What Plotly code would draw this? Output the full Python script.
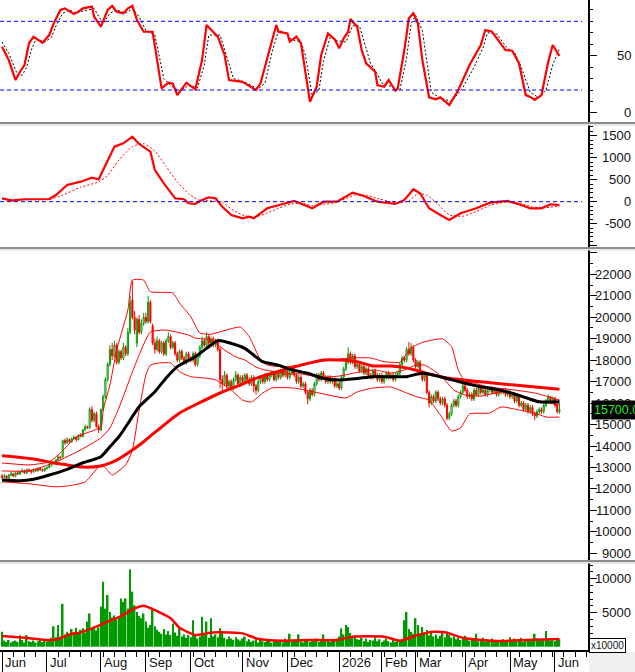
"""
Daily price chart with stochastic, MACD, Bollinger bands, moving averages and volume.
Layout rebuilt in Plotly: four stacked panels sharing one trading-day axis.
"""

import plotly.graph_objects as go

# --- trading days (index 0 = first session of June 2025) -------------------
N_DAYS = 249
days = list(range(N_DAYS))

month_days = [0, 20, 44, 64, 84, 107, 127, 150, 169, 184, 206, 226, 246]
month_labels = ["Jun", "Jul", "Aug", "Sep", "Oct", "Nov", "Dec", "2026",
                "Feb", "Mar", "Apr", "May", "Jun"]

# --- daily candles -----------------------------------------------------------
opens = [
    12600, 12550, 12600, 12500, 12650, 12700, 12600, 12750, 12700, 12800,
    12850, 12750, 12900, 12850, 12800, 12900, 12850, 12950, 12900, 12850,
    12950, 13000, 13100, 13250, 13200, 13350, 13500, 13500, 14250, 14150,
    14300, 14200, 14350, 14400, 14300, 14500, 14450, 14750, 14900, 14850,
    15700, 15200, 15500, 14900, 14750, 15700, 16300, 17100, 17800, 18500,
    18200, 18700, 17900, 18400, 18100, 18600, 18300, 19300, 20800, 20000,
    18800, 19900, 19300, 19700, 20000, 19800, 20700, 19600, 18800, 18500,
    18900, 18400, 18800, 18300, 18900, 19100, 18600, 18800, 18300, 18000,
    18400, 18100, 17900, 18300, 18100, 18000, 18300, 17800, 18200, 18600,
    18900, 18700, 19100, 18800, 19000, 18700, 18900, 18500, 17100, 16900,
    17300, 16800, 17000, 16700, 17100, 17300, 16900, 17200, 17000, 17300,
    17100, 16900, 17200, 16800, 16600, 17000, 17200, 17000, 17300, 17100,
    17300, 17400, 17100, 17400, 17200, 17500, 17300, 17500, 17200, 17400,
    17600, 17300, 17000, 17200, 16800, 16900, 16500, 16200, 16600, 16400,
    16900, 17300, 17100, 17400, 17200, 17000, 17200, 17000, 17100, 16800,
    16900, 16700, 17200, 17600, 17900, 18300, 17900, 18200, 17700, 17800,
    17500, 17700, 17400, 17600, 17300, 17200, 17500, 17300, 17100, 17300,
    17000, 17200, 17400, 17200, 17300, 17100, 17300, 17400, 17800, 18100,
    18000, 18500, 18300, 18600, 18000, 17700, 17900, 17400, 17100, 17300,
    16500, 16000, 16300, 16100, 16500, 16200, 16000, 16200, 15900, 15300,
    15500, 15900, 16100, 15900, 16300, 16500, 16800, 16600, 16300, 16400,
    16200, 16600, 16400, 16700, 16500, 16600, 16400, 16600, 16700, 16500,
    16600, 16400, 16600, 16500, 16600, 16400, 16500, 16300, 16400, 16100,
    16300, 15900, 16000, 15700, 15900, 15600, 15800, 15500, 15400, 15600,
    15700, 15600, 15900, 16100, 16300, 16100, 16200, 15900, 15600,
]
highs = [
    12700, 12700, 12650, 12700, 12800, 12750, 12800, 12800, 12850, 12950,
    12900, 12950, 12950, 12900, 12950, 12950, 13000, 13000, 12950, 13000,
    13050, 13200, 13300, 13300, 13400, 13550, 13550, 14300, 14350, 14400,
    14350, 14400, 14500, 14450, 14550, 14600, 14800, 15000, 14950, 15800,
    15850, 15600, 15600, 15000, 15750, 16400, 17200, 17900, 18700, 18800,
    18900, 18800, 18500, 18500, 18800, 18700, 19500, 21000, 21700, 20300,
    20000, 20100, 19900, 20200, 20200, 21000, 20800, 19700, 19000, 19100,
    19000, 18900, 18900, 19000, 19300, 19200, 18900, 18900, 18400, 18500,
    18500, 18200, 18400, 18400, 18200, 18400, 18400, 18300, 18700, 19100,
    19000, 19300, 19200, 19100, 19100, 19000, 19000, 18600, 17300, 17500,
    17400, 17100, 17100, 17200, 17500, 17400, 17300, 17300, 17400, 17400,
    17200, 17300, 17300, 16900, 17100, 17300, 17300, 17400, 17400, 17400,
    17500, 17500, 17500, 17500, 17600, 17600, 17600, 17600, 17500, 17700,
    17700, 17400, 17300, 17300, 17000, 17000, 16600, 16700, 16700, 17000,
    17400, 17400, 17500, 17500, 17300, 17300, 17300, 17200, 17200, 17000,
    17000, 17300, 17700, 18000, 18600, 18400, 18300, 18300, 17900, 17900,
    17800, 17800, 17700, 17700, 17400, 17600, 17600, 17400, 17400, 17400,
    17300, 17500, 17500, 17400, 17400, 17400, 17500, 17900, 18200, 18200,
    18600, 18850, 18800, 18700, 18100, 18000, 18000, 17500, 17400, 17400,
    16600, 16400, 16400, 16600, 16600, 16300, 16300, 16300, 16000, 15600,
    16000, 16200, 16200, 16400, 16600, 16900, 16900, 16700, 16500, 16500,
    16700, 16700, 16800, 16800, 16700, 16700, 16700, 16800, 16800, 16700,
    16700, 16700, 16700, 16700, 16700, 16600, 16600, 16500, 16500, 16400,
    16400, 16100, 16100, 16000, 16000, 15900, 15900, 15600, 15700, 15800,
    15800, 16000, 16200, 16400, 16300, 16300, 16300, 16000, 16000,
]
lows = [
    12450, 12500, 12400, 12450, 12600, 12550, 12550, 12650, 12650, 12750,
    12700, 12700, 12800, 12700, 12750, 12800, 12800, 12850, 12800, 12800,
    12900, 12950, 13050, 13150, 13150, 13300, 13400, 13450, 14050, 14100,
    14150, 14150, 14300, 14200, 14250, 14400, 14400, 14700, 14800, 14800,
    15100, 15100, 14850, 14600, 14700, 15600, 16200, 17000, 17700, 18000,
    18100, 17800, 17800, 18000, 18000, 18200, 18200, 19200, 19900, 19200,
    18600, 19200, 19200, 19600, 19700, 19700, 19700, 18700, 18300, 18400,
    18300, 18300, 18200, 18200, 18800, 18500, 18500, 18200, 17900, 17900,
    18000, 17800, 17800, 18000, 17900, 17900, 17700, 17700, 18100, 18500,
    18600, 18600, 18700, 18700, 18600, 18600, 18400, 16700, 16500, 16800,
    16700, 16700, 16600, 16600, 17000, 16800, 16800, 16900, 16900, 17000,
    16800, 16800, 16500, 16400, 16500, 16900, 16900, 16900, 17000, 17000,
    17200, 17000, 17000, 17100, 17100, 17200, 17200, 17100, 17100, 17300,
    17200, 16900, 16900, 16700, 16700, 16400, 15950, 16100, 16300, 16300,
    16800, 17000, 17000, 17100, 16900, 16900, 16900, 16900, 16700, 16700,
    16600, 16600, 17100, 17500, 17800, 17800, 17800, 17600, 17600, 17400,
    17400, 17300, 17300, 17200, 17100, 17100, 17200, 17000, 17000, 16900,
    16900, 17100, 17100, 17100, 17000, 17000, 17200, 17300, 17700, 17900,
    17900, 18200, 18200, 17900, 17600, 17600, 17300, 17000, 17000, 16400,
    15800, 15900, 16000, 16000, 16100, 15900, 15900, 15800, 15200, 15200,
    15400, 15800, 15800, 15800, 16200, 16400, 16500, 16200, 16200, 16100,
    16100, 16300, 16300, 16400, 16400, 16300, 16300, 16500, 16400, 16400,
    16300, 16300, 16400, 16400, 16300, 16300, 16200, 16200, 16000, 16000,
    15800, 15800, 15600, 15600, 15500, 15500, 15400, 15200, 15300, 15500,
    15500, 15500, 15800, 16000, 16000, 16000, 15800, 15500, 15500,
]
closes = [
    12550, 12600, 12500, 12650, 12700, 12600, 12750, 12700, 12800, 12850,
    12750, 12900, 12850, 12800, 12900, 12850, 12950, 12900, 12850, 12950,
    13000, 13100, 13250, 13200, 13350, 13500, 13450, 14250, 14150, 14300,
    14200, 14350, 14400, 14300, 14500, 14450, 14750, 14900, 14850, 15700,
    15200, 15500, 14900, 14750, 15700, 16300, 17100, 17800, 18500, 18200,
    18700, 17900, 18400, 18100, 18600, 18300, 19300, 20700, 20000, 19400,
    19900, 19300, 19700, 20000, 19800, 20700, 19800, 18800, 18500, 18900,
    18400, 18800, 18300, 18900, 19100, 18600, 18800, 18300, 18000, 18400,
    18100, 17900, 18300, 18100, 18000, 18300, 17800, 18200, 18600, 18900,
    18700, 19100, 18800, 19000, 18700, 18900, 18500, 17100, 16900, 17300,
    16800, 17000, 16700, 17100, 17300, 16900, 17200, 17000, 17300, 17100,
    16900, 17200, 16800, 16600, 17000, 17200, 17000, 17300, 17100, 17300,
    17400, 17100, 17400, 17200, 17500, 17300, 17500, 17200, 17400, 17600,
    17300, 17000, 17200, 16800, 16900, 16500, 16200, 16600, 16400, 16900,
    17300, 17100, 17400, 17200, 17000, 17200, 17000, 17100, 16800, 16900,
    16700, 17200, 17600, 17900, 18300, 17900, 18200, 17700, 17800, 17500,
    17700, 17400, 17600, 17300, 17200, 17500, 17300, 17100, 17300, 17000,
    17200, 17400, 17200, 17300, 17100, 17300, 17400, 17800, 18100, 18000,
    18500, 18300, 18600, 18000, 17700, 17900, 17400, 17100, 17300, 16500,
    16000, 16300, 16100, 16500, 16200, 16000, 16200, 15900, 15300, 15500,
    15900, 16100, 15900, 16300, 16500, 16800, 16600, 16300, 16400, 16200,
    16600, 16400, 16700, 16500, 16600, 16400, 16600, 16700, 16500, 16600,
    16400, 16600, 16500, 16600, 16400, 16500, 16300, 16400, 16100, 16300,
    15900, 16000, 15700, 15900, 15600, 15800, 15500, 15400, 15600, 15700,
    15600, 15900, 16100, 16300, 16100, 16200, 15900, 15600, 15700,
]
LAST_PRICE = 15700

# volume, in units of 10000 shares
volume = [
    2200, 900, 700, 1000, 600, 800, 900, 700, 1700, 1000, 600, 1700, 800, 700,
    900, 600, 800, 1000, 700, 900, 800,
    1100, 1300, 3000, 1400, 3200, 1500, 6300, 1800,
    2200, 1800, 2600, 2000, 2800, 1900, 2500, 2700, 2100, 3700, 4900, 2600,
    3000, 2400, 2800, 5900,
    9550, 5600, 7600, 5100, 4300, 4600, 4000, 4500, 7100, 6600, 7100, 5600,
    11400, 8100, 6100, 5100, 4500, 4200,
    4900, 3700, 2800, 3200, 5400, 3000, 2500, 2200, 1900, 2600, 1800, 2300,
    1700, 3400, 2100, 1600, 2900, 1500, 1800, 1300, 1700, 1400,
    3900, 1600, 1200, 1500, 4400, 1700, 3700, 1300, 4200, 1500, 1800, 1400,
    2700, 2000, 1300, 1100, 1500, 1200, 1000, 1400, 1100, 900, 1200,
    1500, 800, 1100, 700, 900, 1200, 600, 1000, 800, 700, 1100, 900, 600, 800,
    1000, 700, 900, 600, 1200, 800, 1900, 700, 900, 1000, 1800, 800, 600, 1100,
    900, 700, 1000, 800, 1200, 700, 900, 1800, 800, 1000, 700, 900, 1100,
    1200, 1500, 2700, 1800, 3200, 2900, 2000, 1300, 1600, 1100,
    1000, 1300, 800, 1200, 700, 1000, 900, 1400, 800, 1100, 700, 900, 1200,
    800, 600, 1000, 700, 900, 800, 1100, 3900,
    5100, 2600, 2200, 1900, 4200, 3200, 1800, 2900, 2000, 2450, 1700,
    2100, 1500, 1800, 1200, 1600, 2000, 1400, 2200, 1700, 1300, 1500, 1100,
    1400, 1000, 1200, 1600,
    1300, 900, 1100, 1200, 1900, 800, 1000, 1300, 700, 1100, 900, 1200, 800,
    1000, 700, 900, 1100, 800, 1000, 1400, 900, 1200, 800, 1000, 1300, 700,
    900, 1100, 800, 1000, 1900, 1200, 900, 1100, 1000, 2300, 1200, 900, 1100,
    800, 1000, 1100,
]

# --- price overlays: (trading day, price) ------------------------------------
ma_long_day = [0, 14, 23, 29, 36, 44, 48, 52, 58, 63, 66, 79, 88, 97, 106,
               115, 124, 133, 143, 150, 158, 165, 173, 180, 190, 198, 213,
               228, 248]
ma_long = [13550, 13400, 13210, 13120, 13020, 13070, 13200, 13400, 13810,
           14200, 14460, 15540, 16020, 16470, 16840, 17230, 17510, 17770,
           18010, 18010, 17930, 17730, 17730, 17640, 17360, 17170, 16990,
           16840, 16650]

ma_mid_day = [0, 8, 14, 21, 29, 36, 44, 48, 52, 57, 61, 66, 68, 73, 78, 86,
              93, 96, 101, 108, 116, 123, 128, 136, 143, 150, 158, 165, 173,
              180, 187, 195, 205, 213, 220, 227, 235, 239, 248]
ma_mid = [12420, 12384, 12450, 12650, 12915, 13220, 13500, 13970, 14430,
          15210, 15830, 16330, 16530, 17170, 17700, 18160, 18710, 18910,
          18810, 18550, 17930, 17770, 17570, 17390, 17150, 17080, 17150,
          17230, 17230, 17230, 17390, 17230, 16950, 16760, 16640, 16460,
          16180, 16060, 16060]

bb_up_day = [0, 12, 21, 26, 33, 44, 45, 48, 51, 56, 58, 63, 66, 76, 79, 84,
             88, 93, 97, 106, 110, 115, 118, 125, 133, 141, 155, 164, 170,
             177, 182, 188, 196, 200, 203, 206, 210, 216, 228, 237, 243, 248]
bb_up = [13210, 13120, 13260, 13680, 14420, 14890, 15680, 16840, 18470,
         20340, 21730, 21730, 21190, 21130, 20660, 20020, 19260, 19210,
         19320, 19540, 19090, 18010, 17770, 17690, 17770, 17930, 18100,
         18100, 17930, 17910, 18570, 18860, 18990, 18630, 17540, 17000,
         16940, 16760, 16610, 16470, 16300, 16140]

bb_mid_day = [0, 12, 24, 35, 44, 48, 52, 58, 61, 66, 73, 83, 86, 93, 99,
              104, 108, 113, 117, 123, 128, 133, 141, 150, 159, 166, 173,
              179, 184, 188, 193, 197, 201, 206, 213, 222, 230, 239, 248]
bb_mid = [12840, 12840, 13260, 13820, 14380, 14840, 15770, 17450, 18240,
          19310, 19400, 19170, 19030, 18940, 18470, 18150, 18010, 17680,
          17540, 17450, 17360, 17360, 17210, 17260, 17450, 17540, 17400,
          17540, 17770, 17770, 17450, 17080, 16610, 16380, 16330, 16520,
          16380, 16100, 15910]

bb_low_day = [0, 12, 24, 30, 37, 44, 46, 49, 55, 58, 61, 64, 66, 70, 75,
              79, 84, 90, 95, 102, 107, 111, 116, 120, 130, 141, 153, 158,
              165, 173, 180, 185, 190, 195, 200, 204, 208, 217, 222, 230,
              237, 242, 248]
bb_low = [12330, 12240, 12100, 12150, 12330, 13120, 12980, 12650, 13120,
          13810, 15680, 17310, 17770, 17870, 17870, 17460, 17230, 17170,
          17080, 16610, 16140, 16050, 16470, 16700, 16700, 16470, 16240,
          16520, 16700, 16750, 16470, 16280, 16140, 15440, 14700, 14840,
          15490, 15540, 15820, 15680, 15540, 15350, 15350]

# --- stochastic oscillator ---------------------------------------------------
stoch_k_day = [0, 3, 6, 8, 10, 12, 14, 18, 21, 23, 26, 28, 32, 34, 36, 40,
               41, 44, 47, 49, 51, 54, 56, 58, 60, 63, 67, 71, 74, 76, 78,
               82, 86, 89, 91, 96, 99, 101, 107, 113, 115, 119, 122, 123,
               127, 128, 131, 133, 137, 140, 142, 145, 148, 150, 152, 154,
               155, 158, 160, 162, 166, 167, 170, 172, 175, 176, 179, 181,
               183, 185, 187, 190, 193, 195, 199, 203, 208, 213, 215, 218,
               224, 227, 230, 233, 235, 237, 240, 243, 245, 248]
stoch_k = [57.8, 46.2, 28.7, 36, 41.8, 60.8, 66.6, 61.3, 68, 78.3, 89.9,
           91.3, 86.4, 88.4, 91.3, 92.8, 84, 75.3, 89.9, 93.4, 88.4, 87,
           91.3, 93.4, 81.4, 70.9, 70.9, 21.5, 26.4, 25.5, 15.6, 26.4, 20.6,
           46.2, 76.8, 66.6, 50.6, 28.7, 27.2, 20, 25.9, 54.9, 76.8, 70.9,
           69.5, 62.2, 66.6, 60.8, 9.8, 22.9, 50.6, 69.5, 64.3, 56.4, 65.2,
           70.9, 82, 75.3, 54.9, 43.3, 36, 24.4, 22.9, 28.7, 19.4, 21, 54.9,
           82.6, 87, 78.3, 46.2, 13.6, 11.9, 13.6, 6.9, 20, 41.8, 59.3, 72.4,
           70.9, 54.9, 54.3, 43.3, 15.6, 14, 11.3, 15.6, 44.7, 59.3, 49.7]

stoch_d_day = [0, 3, 7, 9, 11, 13, 15, 19, 22, 24, 27, 30, 33, 36, 41, 43,
               45, 48, 51, 55, 58, 61, 64, 68, 72, 75, 79, 83, 87, 90, 92,
               97, 100, 103, 108, 114, 117, 120, 123, 125, 129, 133, 135,
               138, 141, 143, 146, 149, 153, 156, 159, 162, 164, 167, 169,
               172, 177, 180, 182, 184, 187, 189, 191, 195, 200, 205, 210,
               214, 216, 220, 225, 228, 231, 235, 239, 242, 245, 248]
stoch_d = [62, 52, 33, 33, 40, 55, 64, 62, 66, 76, 87, 90, 87, 89, 91, 84,
           78, 87, 90, 87, 91, 84, 72, 68, 30, 24, 19, 24, 22, 42, 68, 68, 50,
           30, 27, 21, 26, 52, 72, 71, 64, 62, 50, 15, 20, 45, 66, 63, 62, 76,
           76, 55, 43, 34, 26, 24, 20, 48, 78, 85, 72, 45, 18, 13, 10, 22, 40,
           57, 70, 69, 56, 53, 40, 18, 13, 20, 42, 56]
STOCH_LEVELS = [20, 80]

# --- MACD --------------------------------------------------------------------
macd_day = [0, 4, 10, 21, 24, 29, 35, 40, 43, 47, 50, 54, 58, 61, 66, 68,
            72, 77, 81, 83, 86, 89, 92, 95, 98, 102, 105, 107, 110, 112, 118,
            122, 127, 130, 132, 138, 143, 149, 156, 161, 167, 175, 179, 183,
            186, 190, 195, 199, 204, 211, 217, 225, 231, 235, 240, 244, 248]
macd = [77, 23, 55, 61, 152, 380, 455, 545, 509, 948, 1250, 1327, 1477,
        1311, 1136, 720, 418, 77, 55, -36, -52, 39, 100, 77, -114, -302,
        -341, -377, -341, -377, -150, -91, -14, 16, -23, -150, 0, 0, 205,
        130, 0, -52, 39, 282, 191, -150, -302, -416, -264, -150, -23, 16,
        -75, -150, -150, -59, -75]

signal_day = [0, 10, 21, 27, 35, 43, 47, 52, 58, 63, 68, 73, 78, 83, 88, 93,
              98, 103, 108, 113, 118, 123, 128, 133, 138, 143, 149, 157, 162,
              168, 176, 181, 185, 189, 194, 199, 205, 211, 217, 225, 231,
              236, 241, 248]
signal = [60, 45, 50, 150, 330, 450, 600, 950, 1250, 1320, 1150, 800, 450,
          180, 30, 20, -20, -200, -320, -340, -260, -150, -60, -30, -90, -60,
          -10, 150, 150, 60, -30, 20, 180, 150, -60, -300, -330, -220, -90,
          0, -40, -120, -140, -100]
MACD_LEVELS = [0]

# --- volume moving average ---------------------------------------------------
vol_ma_day = [0, 10, 21, 25, 30, 35, 42, 47, 53, 59, 63, 68, 75, 79, 86, 91,
              96, 107, 114, 125, 136, 149, 156, 170, 177, 185, 192, 197, 206,
              221, 233, 248]
vol_ma = [1570, 1320, 980, 1130, 1810, 2110, 2940, 3680, 4510, 5640, 6030,
          5390, 4170, 2790, 1720, 1960, 2110, 1960, 1130, 880, 980, 980, 1470,
          1470, 880, 1720, 2200, 2110, 1230, 830, 980, 1130]

# --- axis ticks ----------------------------------------------------------------
stoch_ticks = [0, 50]
macd_ticks = [-500, 0, 500, 1000, 1500]
price_ticks = list(range(9000, 22001, 1000))
volume_ticks = [5000, 10000]

RED = "#ff0000"
GREEN = "#009a00"
BLUE = "#0000ff"
FONT = "Liberation Sans"

# plot area is 588 px wide; one trading day is about 2.25 px
X_RANGE = [-0.9, 260.7]
LABEL_X = 1 + 45 / 588


def yaxis(domain, rng, dtick, minor_dtick):
    return dict(
        domain=domain, range=rng, side="right", anchor="x",
        showgrid=False, zeroline=False, fixedrange=True,
        showline=True, linecolor="black", linewidth=1.5,
        ticks="outside", tickmode="linear", tick0=0, dtick=dtick,
        ticklen=7, tickcolor="black", showticklabels=False,
        minor=dict(tickmode="linear", tick0=0, dtick=minor_dtick,
                   ticks="outside", ticklen=3, tickcolor="black"),
    )


def tick_labels(values, yref):
    return [
        dict(x=LABEL_X, xref="paper", xanchor="right", y=v, yref=yref,
             yanchor="middle", text=str(v), showarrow=False,
             font=dict(family=FONT, size=13, color="#111111"))
        for v in values
    ]


def main():
    fig = go.Figure()

    # stochastic
    fig.add_trace(go.Scatter(x=stoch_d_day, y=stoch_d, mode="lines",
                             line=dict(color="black", width=1, dash="2px,2px"),
                             xaxis="x", yaxis="y"))
    fig.add_trace(go.Scatter(x=stoch_k_day, y=stoch_k, mode="lines",
                             line=dict(color=RED, width=2.2),
                             xaxis="x", yaxis="y"))

    # MACD
    fig.add_trace(go.Scatter(x=signal_day, y=signal, mode="lines",
                             line=dict(color=RED, width=1, dash="2px,2px",
                                       shape="spline", smoothing=0.6),
                             xaxis="x", yaxis="y2"))
    fig.add_trace(go.Scatter(x=macd_day, y=macd, mode="lines",
                             line=dict(color=RED, width=2.2),
                             xaxis="x", yaxis="y2"))

    # price: candles, Bollinger bands, moving averages
    fig.add_trace(go.Candlestick(
        x=days, open=opens, high=highs, low=lows, close=closes,
        increasing=dict(line=dict(color=GREEN, width=1), fillcolor="white"),
        decreasing=dict(line=dict(color=RED, width=1), fillcolor=RED),
        whiskerwidth=0, hoverinfo="skip", xaxis="x", yaxis="y3",
    ))
    for bx, by in [(bb_up_day, bb_up), (bb_mid_day, bb_mid), (bb_low_day, bb_low)]:
        fig.add_trace(go.Scatter(x=bx, y=by, mode="lines",
                                 line=dict(color=RED, width=1, shape="spline",
                                           smoothing=0.5),
                                 xaxis="x", yaxis="y3"))
    fig.add_trace(go.Scatter(x=ma_long_day, y=ma_long, mode="lines",
                             line=dict(color=RED, width=3, shape="spline",
                                       smoothing=0.6),
                             xaxis="x", yaxis="y3"))
    fig.add_trace(go.Scatter(x=ma_mid_day, y=ma_mid, mode="lines",
                             line=dict(color="black", width=3, shape="spline",
                                       smoothing=0.6),
                             xaxis="x", yaxis="y3"))

    # volume
    fig.add_trace(go.Bar(x=days, y=volume, marker_color=GREEN,
                         marker_line_width=0, xaxis="x", yaxis="y4"))
    fig.add_trace(go.Scatter(x=vol_ma_day, y=vol_ma, mode="lines",
                             line=dict(color=RED, width=2.5, shape="spline",
                                       smoothing=0.5),
                             xaxis="x", yaxis="y4"))

    # dashed reference levels
    shapes = []
    for lvl in STOCH_LEVELS:
        shapes.append(dict(type="line", xref="paper", x0=0, x1=0.99,
                           yref="y", y0=lvl, y1=lvl,
                           line=dict(color=BLUE, width=1, dash="4px,3px")))
    for lvl in MACD_LEVELS:
        shapes.append(dict(type="line", xref="paper", x0=0, x1=0.99,
                           yref="y2", y0=lvl, y1=lvl,
                           line=dict(color=BLUE, width=1, dash="4px,3px")))

    # grey separators between the panels (pixel rows 123, 248, 561)
    for y_px in (123, 248, 561):
        y = (650 - y_px) / 650
        shapes.append(dict(type="line", xref="paper", x0=-0.01, x1=1.1,
                           yref="paper", y0=y, y1=y,
                           line=dict(color="#8c8c8c", width=2)))
        y2 = (650 - y_px - 2) / 650
        shapes.append(dict(type="line", xref="paper", x0=-0.01, x1=1.1,
                           yref="paper", y0=y2, y1=y2,
                           line=dict(color="#d4d4d4", width=1.2)))

    # grey corner under the price scale
    shapes.append(dict(type="rect", xref="paper", x0=1.002, x1=1.1,
                       yref="paper", y0=-0.05, y1=-0.003,
                       fillcolor="#f0f0f0", line=dict(width=0)))

    annotations = []
    annotations += tick_labels(stoch_ticks, "y")
    annotations += tick_labels(macd_ticks, "y2")
    annotations += tick_labels(price_ticks, "y3")
    annotations += tick_labels(volume_ticks, "y4")

    for d, lab in zip(month_days, month_labels):
        annotations.append(dict(x=d, xref="x", xanchor="left", xshift=1,
                                y=-12 / 650, yref="paper", yanchor="middle",
                                text=lab, showarrow=False,
                                font=dict(family=FONT, size=13, color="#111111")))

    annotations.append(dict(x=1 + 3 / 588, xref="paper", xanchor="left",
                            y=LAST_PRICE, yref="y3", yanchor="middle",
                            text=f"{LAST_PRICE:.2f}", showarrow=False,
                            bgcolor="black", borderpad=2,
                            font=dict(family=FONT, size=12.5, color="#22ee22")))
    annotations.append(dict(x=1 + 1 / 588, xref="paper", xanchor="left",
                            y=5 / 650, yref="paper", yanchor="middle",
                            text="x10000", showarrow=False,
                            bgcolor="white", bordercolor="black",
                            borderwidth=1, borderpad=1,
                            font=dict(family=FONT, size=10, color="#111111")))

    fig.update_layout(
        width=635, height=672, autosize=False,
        margin=dict(l=0, r=47, t=0, b=22, pad=0),
        paper_bgcolor="white", plot_bgcolor="white",
        showlegend=False, bargap=0.3, dragmode=False,
        xaxis=dict(
            domain=[0, 1], anchor="y4", range=X_RANGE,
            showgrid=False, zeroline=False, fixedrange=True,
            showline=True, linecolor="black", linewidth=1.5,
            ticks="outside", tickmode="array", tickvals=month_days,
            ticklen=22, tickwidth=1.2, tickcolor="black",
            showticklabels=False,
            minor=dict(tickmode="linear", tick0=0, dtick=5, ticks="outside",
                       ticklen=5, tickcolor="black"),
            rangeslider=dict(visible=False),
        ),
        yaxis=yaxis([528 / 650, 1], [-7.9, 98.6], 50, 10),
        yaxis2=yaxis([403 / 650, 525 / 650], [-1030, 1743], 500, 100),
        yaxis3=yaxis([90 / 650, 400 / 650], [8690, 23132], 1000, 500),
        yaxis4=yaxis([0, 87 / 650], [-485, 12309], 5000, 1000),
        shapes=shapes,
        annotations=annotations,
    )

    # the page body has a default 8px margin; drop it so the chart sits at 0,0
    fig.write_html("out.html", config={"displayModeBar": False},
                   post_script="document.body.style.margin='0';"
                               "document.body.style.overflow='hidden';")


if __name__ == "__main__":
    main()
